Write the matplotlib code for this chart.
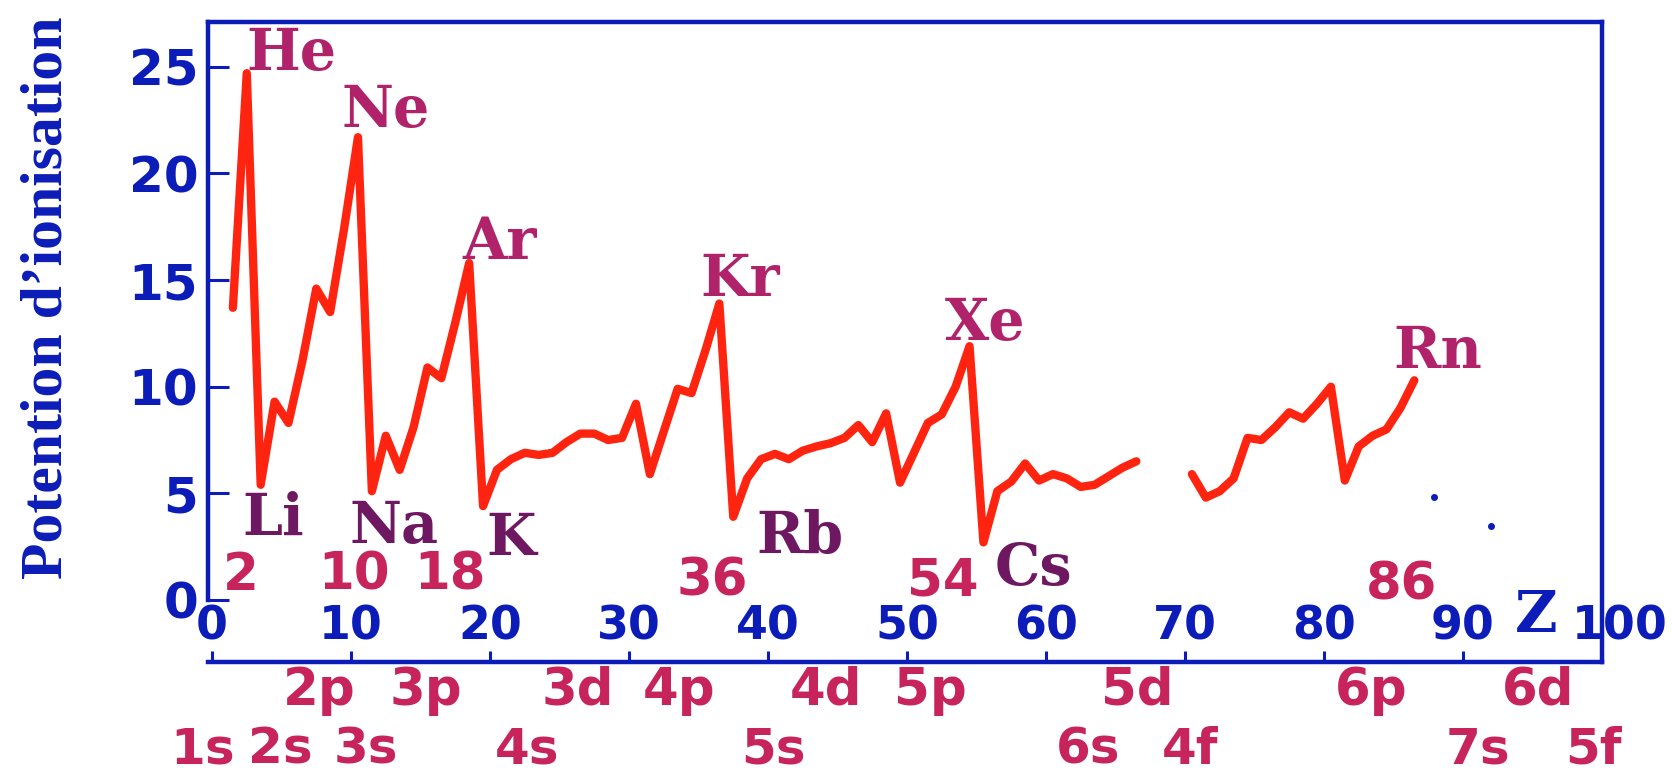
import numpy as np
import matplotlib
matplotlib.use('Agg')
import matplotlib.pyplot as plt
from matplotlib.transforms import ScaledTranslation

nan = np.nan

# ionisation potential (eV) against atomic number Z
z = list(range(1, 87))
ip = [13.7, 24.7, 5.4, 9.3, 8.3, 11.2, 14.6, 13.5, 17.4, 21.7,   # 1-10
      5.1, 7.7, 6.1, 8.1, 10.9, 10.4, 13.0, 15.8, 4.4, 6.1,      # 11-20
      6.6, 6.9, 6.8, 6.9, 7.4, 7.8, 7.8, 7.5, 7.6, 9.2,          # 21-30
      5.9, 7.9, 9.9, 9.7, 11.7, 13.9, 3.9, 5.7, 6.6, 6.85,       # 31-40
      6.6, 7.0, 7.2, 7.35, 7.6, 8.2, 7.4, 8.75, 5.5, 6.9,        # 41-50
      8.3, 8.7, 10.0, 11.9, 2.7, 5.1, 5.55, 6.4, 5.6, 5.9,       # 51-60
      5.7, 5.3, 5.4, 5.8, 6.2, 6.5, nan, nan, nan, 5.9,          # 61-70
      4.8, 5.1, 5.7, 7.6, 7.5, 8.1, 8.8, 8.5, 9.2, 10.0,         # 71-80
      5.6, 7.2, 7.7, 8.0, 9.0, 10.3]                             # 81-86

# rare gases (peaks) and alkali metals (dips)
peak_names = ['He', 'Ne', 'Ar', 'Kr', 'Xe', 'Rn']
dip_names = ['Li', 'Na', 'K', 'Rb', 'Cs']
shell_z = ['2', '10', '18', '36', '54', '86']

# sub-shells written under the axis, two rows
orb_top = ['2p', '3p', '3d', '4p', '4d', '5p', '5d', '6p', '6d']
orb_bottom = ['1s', '2s', '3s', '4s', '5s', '6s', '4f', '7s', '5f']

xticks = list(range(0, 101, 10))
yticks = [0, 5, 10, 15, 20, 25]

# layout of the annotations (data units)
peak_x = [5.7, 12.5, 20.7, 38.0, 55.6, 88.2]
peak_y = [24.85, 22.2, 16.0, 14.25, 12.2, 10.9]
dip_x = [4.4, 13.1, 21.5, 42.3, 59.1]
dip_y = [3.05, 2.67, 2.1, 2.2, 0.7]
shell_x = [2.1, 10.2, 17.1, 36.0, 52.6, 85.6]
shell_y = [0.47, 0.47, 0.47, 0.23, 0.23, 0.0]
orb_top_x = [7.7, 15.4, 26.3, 33.6, 44.2, 51.7, 66.6, 83.4, 95.4]
orb_bottom_x = [-0.7, 4.9, 11.1, 22.7, 40.4, 63.0, 70.4, 91.1, 99.4]

z_shift = 0.5   # the drawn curve sits about half a unit right of the integer Z

BLUE = '#0c1cb8'
RED = '#ff2410'
PINK = '#b0226a'
PURPLE = '#6e1862'
CRIMSON = '#c8245c'

fig = plt.figure(figsize=(16.72, 7.76), dpi=100)
ax = fig.add_axes([0.1244, 0.1469, 0.8337, 0.8247])
ax.set_xlim(-0.29, 100)
ax.set_ylim(-2.91, 27.1)

ax.plot(np.array(z) + z_shift, ip, color=RED, lw=6, solid_joinstyle='round',
        solid_capstyle='round')

# a couple of stray specks from the scan
ax.plot([87.9, 92.0], [4.83, 3.47], 'o', ms=4, color=BLUE)

for s in ax.spines.values():
    s.set_color(BLUE)
    s.set_linewidth(3.2)
ax.spines['left'].set_bounds(0, 27.1)

ax.set_yticks(yticks)
ax.tick_params(axis='y', direction='in', length=15, width=2.2, colors=BLUE,
               labelsize=36, pad=7)
for lab in ax.get_yticklabels():
    lab.set_fontweight('bold')

ax.set_xticks(xticks)
ax.tick_params(axis='x', direction='in', length=8, width=2.2, colors=BLUE,
               labelsize=33, pad=-16)
for lab in ax.get_xticklabels():
    lab.set_fontweight('bold')
    lab.set_va('baseline')
# the "100" is drawn across the right frame
last = ax.get_xticklabels()[-1]
last.set_transform(last.get_transform() + ScaledTranslation(0.18, 0, fig.dpi_scale_trans))

serif = ['DejaVu Serif']
for name, x, y in zip(peak_names, peak_x, peak_y):
    ax.text(x, y, name, color=PINK, fontsize=41, fontweight='bold',
            family=serif, ha='center', va='baseline')
for name, x, y in zip(dip_names, dip_x, dip_y):
    ax.text(x, y, name, color=PURPLE, fontsize=41, fontweight='bold',
            family=serif, ha='center', va='baseline')
for s, x, y in zip(shell_z, shell_x, shell_y):
    ax.text(x, y, s, color=CRIMSON, fontsize=37, fontweight='bold',
            ha='center', va='baseline')

for s, x in zip(orb_top, orb_top_x):
    ax.text(x, -4.92, s, color=CRIMSON, fontsize=37, fontweight='bold',
            ha='center', va='baseline', clip_on=False)
for s, x in zip(orb_bottom, orb_bottom_x):
    ax.text(x, -7.68, s, color=CRIMSON, fontsize=36, fontweight='bold',
            ha='center', va='baseline', clip_on=False)

ax.text(95.3, -1.5, 'Z', color=BLUE, fontsize=42, fontweight='bold',
        family=serif, ha='center', va='baseline')

fig.text(0.0287, 0.616, 'Potention d\u2019ionisation', rotation=90, color=BLUE,
         fontsize=43, fontweight='bold', family=['Liberation Serif', 'DejaVu Serif'],
         ha='center', va='center')

plt.savefig('out.png', dpi=100)
